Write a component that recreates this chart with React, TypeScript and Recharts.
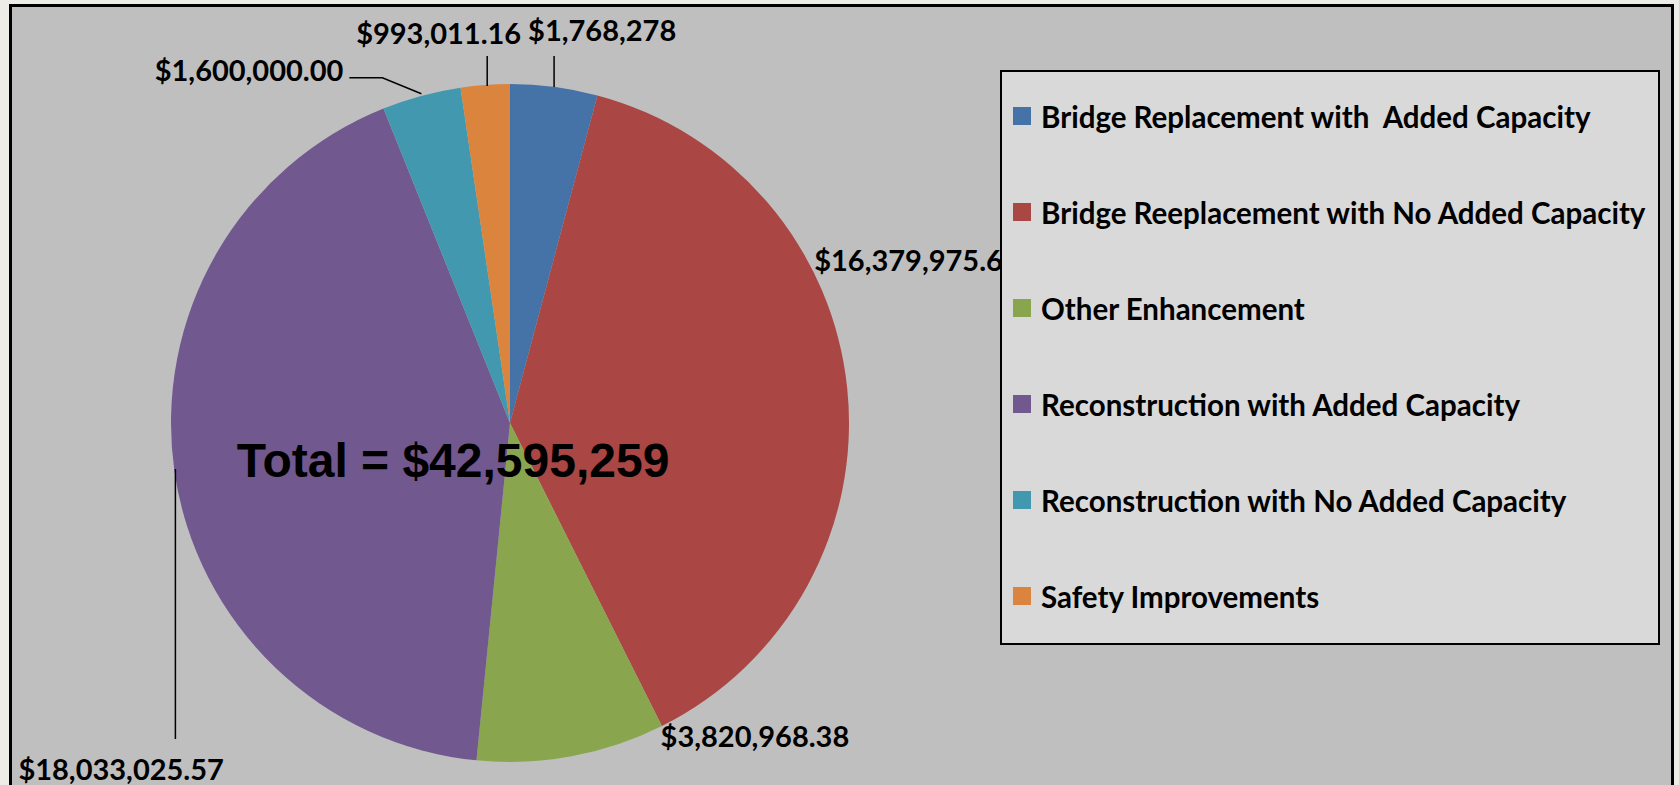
import { PieChart, Pie, Cell, Legend } from "recharts";

const categories = [
  "Bridge Replacement with  Added Capacity",
  "Bridge Reeplacement with No Added Capacity",
  "Other Enhancement",
  "Reconstruction with Added Capacity",
  "Reconstruction with No Added Capacity",
  "Safety Improvements",
];
const amounts = [1768278, 16379975.6, 3820968.38, 18033025.57, 1600000, 993011.16];
const valueLabels = [
  "$1,768,278",
  "$16,379,975.60",
  "$3,820,968.38",
  "$18,033,025.57",
  "$1,600,000.00",
  "$993,011.16",
];
const colors = ["#4572a7", "#aa4643", "#89a54e", "#71588f", "#4198af", "#db843d"];

const data = categories.map((name, i) => ({ name, value: amounts[i] }));
const total = Math.round(amounts.reduce((s, v) => s + v, 0));

// label offsets from the slice's outer edge point (Excel's hand-placed labels)
const labelPlace = [
  { dx: -26, dy: -57, anchor: "start", leader: [[0, 0], [0, -31]] },
  { dx: -33, dy: -129, anchor: "start", leader: [] },
  { dx: 89, dy: -21, anchor: "start", leader: [] },
  { dx: -156, dy: 298, anchor: "start", leader: [[1, -2], [1, 268]] },
  { dx: -78, dy: -26, anchor: "end", leader: [[0, -2], [-39, -18], [-72, -18]] },
  { dx: 36, dy: -52, anchor: "end", leader: [[2, 1], [2, -29]] },
];

const RAD = Math.PI / 180;

function renderLabel(props: any) {
  const { cx, cy, midAngle, outerRadius, index } = props;
  const ex = cx + outerRadius * Math.cos(-midAngle * RAD);
  const ey = cy + outerRadius * Math.sin(-midAngle * RAD);
  const p = labelPlace[index];
  const pts = p.leader.map(([x, y]) => `${ex + x},${ey + y}`).join(" ");
  return (
    <g key={`lbl-${index}`}>
      {p.leader.length > 0 && (
        <polyline points={pts} fill="none" stroke="#000" strokeWidth={1.5} />
      )}
      <text
        x={ex + p.dx}
        y={ey + p.dy}
        textAnchor={p.anchor as any}
        dominantBaseline="central"
        fontFamily="Lato, sans-serif"
        fontWeight={700}
        fontSize={29}
        fill="#000"
      >
        {valueLabels[index]}
      </text>
      {index === 0 && (
        <text
          x={cx - 57}
          y={cy + 37}
          textAnchor="middle"
          dominantBaseline="central"
          fontFamily="'Liberation Sans', Arial, sans-serif"
          fontWeight={700}
          fontSize={48}
          fill="#000"
        >
          {`Total = $${total.toLocaleString("en-US")}`}
        </text>
      )}
    </g>
  );
}

function renderLegend() {
  return (
    <div style={{ marginTop: -4 }}>
      {categories.map((name, i) => (
        <div
          key={name}
          style={{
            display: "flex",
            alignItems: "center",
            height: 96,
            marginLeft: 11,
          }}
        >
          <span
            style={{
              display: "inline-block",
              width: 18,
              height: 18,
              background: colors[i],
              marginRight: 10,
              flexShrink: 0,
            }}
          />
          <span
            style={{
              fontFamily: "Lato, sans-serif",
              fontWeight: 700,
              fontSize: 29.5,
              color: "#000",
              whiteSpace: "pre",
            }}
          >
            {name}
          </span>
        </div>
      ))}
    </div>
  );
}

export default function App() {
  return (
    <div
      style={{
        position: "absolute",
        left: 0,
        top: 0,
        width: 1679,
        height: 785,
        overflow: "hidden",
        background: "#eeece7",
      }}
    >
      <div
        style={{
          position: "absolute",
          left: 9,
          top: 4,
          width: 1665,
          height: 820,
          boxSizing: "border-box",
          border: "3px solid #000",
          background: "#bfbfbf",
        }}
      />
      <div style={{ position: "absolute", left: 0, top: 0 }}>
        <PieChart width={1679} height={785} margin={{ top: 0, right: 0, bottom: 0, left: 0 }}>
          <Pie
            data={data}
            dataKey="value"
            nameKey="name"
            cx={510}
            cy={423}
            outerRadius={339}
            startAngle={90}
            endAngle={-270}
            stroke="none"
            label={renderLabel}
            labelLine={false}
            isAnimationActive={false}
          >
            {data.map((d, i) => (
              <Cell key={d.name} fill={colors[i]} />
            ))}
          </Pie>
          <Legend
            layout="vertical"
            verticalAlign="top"
            align="right"
            content={renderLegend}
            wrapperStyle={{
              position: "absolute",
              left: 1000,
              top: 70,
              width: 660,
              height: 575,
              boxSizing: "border-box",
              border: "2px solid #000",
              background: "#d9d9d9",
              overflow: "hidden",
            }}
          />
        </PieChart>
      </div>
    </div>
  );
}
